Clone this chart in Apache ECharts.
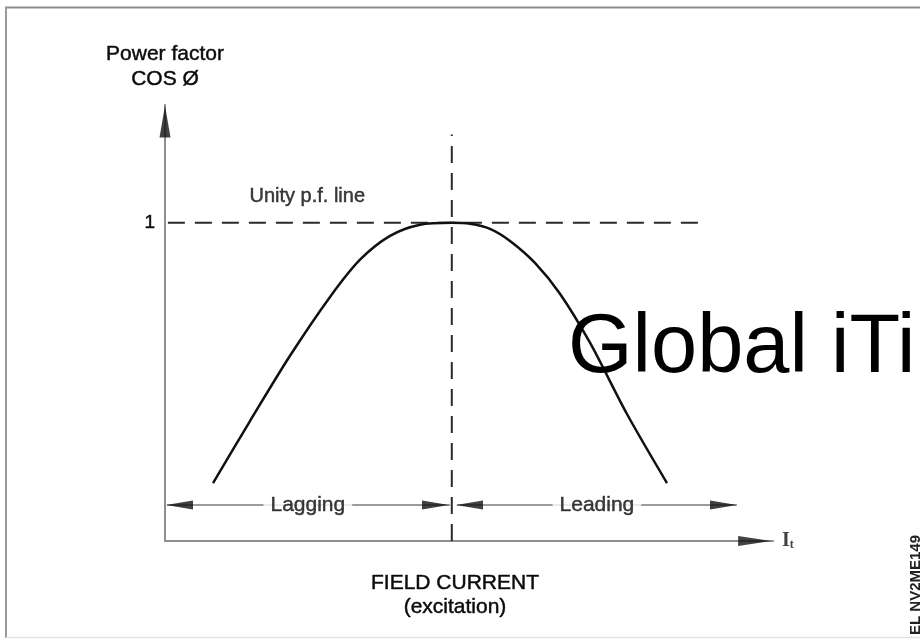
<!DOCTYPE html>
<html>
<head>
<meta charset="utf-8">
<script src="https://cdn.jsdelivr.net/npm/echarts@6/dist/echarts.min.js"></script>
<style>html,body{margin:0;padding:0;background:#fff}#c{width:920px;height:642px}</style>
</head>
<body>
<div id="c"></div>
<script>
// ---- data ----
const xMax = 106;
const yMax = 1.37;
const curveX = [8.37, 14.82, 21.79, 28.77, 34.0, 39.23, 44.46, 50.0, 53.17, 56.66, 60.15, 64.5, 68.86, 74.09, 80.54, 87.52];
const curveY = [0.182, 0.377, 0.582, 0.767, 0.884, 0.959, 0.994, 1.0, 0.997, 0.981, 0.943, 0.874, 0.777, 0.623, 0.399, 0.182];
const unityX = [0.5, 93.8];
const unityY = 1;
const centerX = 50;
const centerTop = 1.277;
const bandY = 0.113;
const lagRange = [0.35, 49.7];
const leadRange = [50.9, 99.7];
const bandLabels = ['Lagging', 'Leading'];
const bandLabelX = [24.9, 75.3];
const unityLabel = 'Unity p.f. line';
const unityLabelPos = [24.8, 1.082];
const yTickLabels = ['1'];
// arrow heads: [x, y, direction]
const arrowHeads = [
  [0, 1.318, 'up'],
  [102.8, 0, 'right'],
  [2.53, bandY, 'left'],
  [47.16, bandY, 'right'],
  [53.09, bandY, 'left'],
  [97.37, bandY, 'right']
];

const FONT = '"Liberation Sans", Arial, sans-serif';
const TXT = '#0a0a0a';
const BOLDEN = { textBorderColor: '#2a2a2a', textBorderWidth: 0.5 };
const paths = {
  right: 'path://M0,0L10,5L0,10Z',
  left: 'path://M10,0L0,5L10,10Z',
  up: 'path://M5,0L10,10L0,10Z'
};
const sizes = { up: [11, 32], right: [27, 9], left: [27, 9] };

const chart = echarts.init(document.getElementById('c'), null, { renderer: 'canvas' });

const arrowData = arrowHeads.map((a, i) => ({
  value: [a[0], a[1]],
  symbol: paths[a[2]],
  symbolSize: (i === 1) ? [33, 10] : sizes[a[2]]
}));

const labelData = bandLabels.map((t, i) => ({ value: [bandLabelX[i], bandY], name: t }));

const option = {
  animation: false,
  backgroundColor: '#ffffff',
  grid: { left: 165, top: 105, width: 608, height: 436, containLabel: false },
  xAxis: {
    type: 'value', min: 0, max: xMax,
    axisLine: { show: true, onZero: false, lineStyle: { color: '#8e8e8e', width: 2 } },
    axisTick: { show: false }, axisLabel: { show: false }, splitLine: { show: false },
    name: 'FIELD CURRENT\n(excitation)', nameLocation: 'middle', nameGap: 30,
    nameTextStyle: Object.assign({ fontFamily: FONT, fontSize: 21, lineHeight: 24, color: TXT, padding: [0, 28, 0, 0] }, BOLDEN)
  },
  yAxis: {
    type: 'value', min: 0, max: yMax, interval: 1,
    axisLine: { show: true, onZero: false, lineStyle: { color: '#8e8e8e', width: 2 } },
    axisTick: { show: false }, splitLine: { show: false },
    axisLabel: Object.assign({
      margin: 10, fontFamily: FONT, fontSize: 19, color: TXT,
      formatter: v => (v === 1 ? yTickLabels[0] : '')
    }, BOLDEN),
    name: 'Power factor\nCOS Ø', nameLocation: 'end', nameGap: 13,
    nameTextStyle: Object.assign({ fontFamily: FONT, fontSize: 21, lineHeight: 25, color: TXT, align: 'center' }, BOLDEN)
  },
  series: [
    {
      name: 'pf', type: 'line', smooth: 0.3, showSymbol: false, z: 3,
      data: curveX.map((x, i) => [x, curveY[i]]),
      lineStyle: { color: '#111', width: 2.5 }
    },
    {
      name: 'unity', type: 'line', showSymbol: false, z: 2,
      data: unityX.map(x => [x, unityY]),
      lineStyle: { color: '#2a2a2a', width: 2, type: [17, 10] }
    },
    {
      name: 'center', type: 'line', showSymbol: false, z: 2,
      data: [[centerX, 0], [centerX, centerTop]],
      lineStyle: { color: '#2a2a2a', width: 2, type: [17, 10] }
    },
    {
      name: 'lag', type: 'line', showSymbol: false, z: 2,
      data: lagRange.map(x => [x, bandY]),
      lineStyle: { color: '#9c9c9c', width: 2 }
    },
    {
      name: 'lead', type: 'line', showSymbol: false, z: 2,
      data: leadRange.map(x => [x, bandY]),
      lineStyle: { color: '#9c9c9c', width: 2 }
    },
    {
      name: 'arrows', type: 'scatter', clip: false, z: 6,
      data: arrowData,
      itemStyle: { color: '#111' }
    },
    {
      name: 'bandLabels', type: 'scatter', clip: false, z: 7, symbolSize: 0,
      data: labelData,
      label: Object.assign({
        show: true, position: 'inside', formatter: p => p.name,
        fontFamily: FONT, fontSize: 21, color: TXT,
        backgroundColor: '#fff', padding: [2, 7]
      }, BOLDEN)
    },
    {
      name: 'unityLabel', type: 'scatter', clip: false, z: 7, symbolSize: 0,
      data: [{ value: unityLabelPos, name: unityLabel }],
      label: Object.assign({ show: true, position: 'inside', formatter: p => p.name, fontFamily: FONT, fontSize: 20, color: TXT }, BOLDEN)
    },
    {
      name: 'axisEnd', type: 'scatter', clip: false, z: 7, symbolSize: 0,
      data: [{ value: [xMax, 0], name: 'I' }],
      label: {
        show: true, position: 'right', distance: 9,
        formatter: '{i|I}{t|t}',
        rich: {
          i: { fontFamily: '"Liberation Serif", serif', fontWeight: 'bold', fontSize: 20, color: '#111' },
          t: { fontFamily: '"Liberation Serif", serif', fontWeight: 'bold', fontSize: 12, color: '#111', verticalAlign: 'bottom', padding: [8, 0, 0, 0] }
        }
      }
    }
  ],
  graphic: [
    { type: 'line', shape: { x1: 5, y1: 7.5, x2: 920, y2: 7.5 }, style: { stroke: '#8c8c8c', lineWidth: 2 }, z: 1 },
    { type: 'line', shape: { x1: 6, y1: 7, x2: 6, y2: 638 }, style: { stroke: '#9a9a9a', lineWidth: 2 }, z: 1 },
    { type: 'line', shape: { x1: 6, y1: 637.5, x2: 920, y2: 637.5 }, style: { stroke: '#e2e2e2', lineWidth: 1.5 }, z: 1 },
    {
      type: 'text', x: 568, y: 349, z: 100,
      style: { text: 'Global iTi', fontFamily: FONT, fontSize: 83, fill: '#000', verticalAlign: 'middle', align: 'left' }
    },
    {
      type: 'text', x: 916, y: 585, rotation: Math.PI / 2, z: 100,
      style: { text: 'EL NV2ME149', fontFamily: FONT, fontSize: 15, fontWeight: 'bold', fill: '#222', align: 'center', verticalAlign: 'middle' }
    }
  ]
};
chart.setOption(option);
</script>
</body>
</html>
